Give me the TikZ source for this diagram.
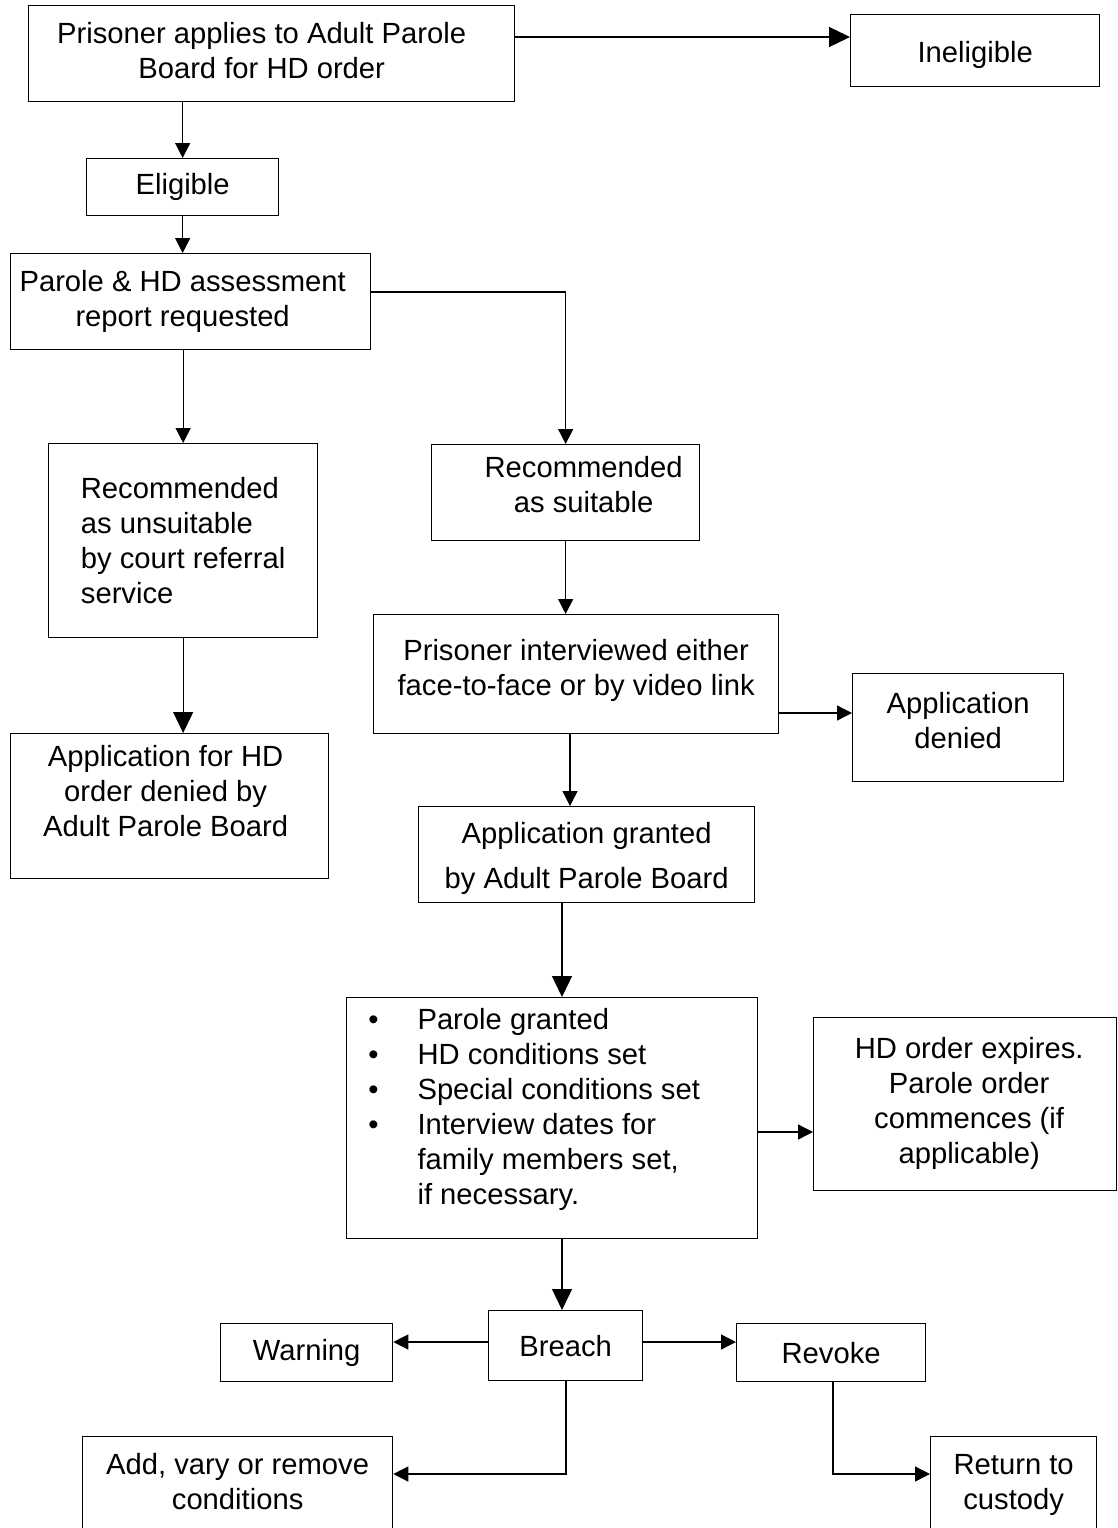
\documentclass[tikz,border=0pt]{standalone}
\usepackage{fontspec}
\setmainfont{Liberation Sans}
\usetikzlibrary{arrows.meta,calc}
\begin{document}
\begin{tikzpicture}[x=1pt,y=-1pt,
  box/.style={draw, line width=1.3pt, anchor=north west, inner sep=0pt,
    font=\fontsize{29.2}{35}\selectfont, align=center},
  arr/.style={line width=1.3pt, -{Triangle[length=15pt,width=15pt]}},
  bigarr/.style={line width=1.3pt, -{Triangle[length=21pt,width=20pt]}}]
\useasboundingbox (0,0) rectangle (1117,1528);
% boxes
\node[box, minimum width=486pt, minimum height=96pt] (top) at (28,5)
  {\begin{tabular}{@{}c@{\hspace{20pt}}}Prisoner applies to Adult Parole\\Board for HD order\end{tabular}};
\node[box, minimum width=249pt, minimum height=72pt] (inel) at (850,14)
  {\raisebox{-4pt}[\height][\depth]{Ineligible}};
\node[box, minimum width=192pt, minimum height=57pt] (elig) at (86,158) {Eligible};
\node[box, minimum width=360pt, minimum height=96pt] (parole) at (10,253)
  {\begin{tabular}{@{}c@{\hspace{16pt}}}Parole \& HD assessment\\report requested\end{tabular}};
\node[box, minimum width=269pt, minimum height=194pt, align=left] (unsuit) at (48,443)
  {Recommended\\as unsuitable\\by court referral\\service};
\node[box, minimum width=268pt, minimum height=96pt] (suit) at (431,444)
  {\begin{tabular}{@{\hspace{36pt}}c@{}}Recommended\\as suitable\\[10pt]\end{tabular}};
\node[box, minimum width=318pt, minimum height=145pt] (denapb) at (10,733)
  {\begin{tabular}{@{}c@{\hspace{8pt}}}Application for HD\\order denied by\\Adult Parole Board\\[24pt]\end{tabular}};
\node[box, minimum width=405pt, minimum height=119pt] (interv) at (373,614)
  {\begin{tabular}{@{}c@{}}Prisoner interviewed either\\face-to-face or by video link\\[6pt]\end{tabular}};
\node[box, minimum width=211pt, minimum height=108pt] (appden) at (852,673)
  {\begin{tabular}{@{}c@{}}Application\\denied\\[8pt]\end{tabular}};
\node[box, minimum width=336pt, minimum height=96pt] (granted) at (418,806)
  {\rule{0pt}{29pt}Application granted\\[10pt]by Adult Parole Board};
\node[box, minimum width=411pt, minimum height=241pt] (bul) at (346,997)
  {\begin{tabular}{@{}l@{\hspace{39pt}}l@{\hspace{36pt}}}
   \textbullet & Parole granted\\
   \textbullet & HD conditions set\\
   \textbullet & Special conditions set\\
   \textbullet & Interview dates for\\
   & family members set,\\
   & if necessary.\\[16pt]
   \end{tabular}};
\node[box, minimum width=303pt, minimum height=173pt] (hd) at (813,1017)
  {\begin{tabular}{@{\hspace{8pt}}c@{}}HD order expires.\\Parole order\\commences (if\\applicable)\end{tabular}};
\node[box, minimum width=172pt, minimum height=58pt] (warn) at (220,1323) {Warning};
\node[box, minimum width=154pt, minimum height=70pt] (breach) at (488,1310) {Breach};
\node[box, minimum width=189pt, minimum height=58pt] (revoke) at (736,1323) {Revoke};
\node[box, minimum width=310pt, minimum height=109pt] (add) at (82,1436)
  {\begin{tabular}{@{}c@{}}Add, vary or remove\\conditions\\[13pt]\end{tabular}};
\node[box, minimum width=166pt, minimum height=109pt] (ret) at (930,1436)
  {\begin{tabular}{@{}c@{}}Return to\\custody\\[13pt]\end{tabular}};
% connector levels
\coordinate (y1) at (0,37);
\coordinate (y2) at (0,292);
\coordinate (y3) at (0,713);
\coordinate (x4) at (570,0);
\coordinate (x5) at (562,0);
\coordinate (y6) at (0,1132);
\coordinate (y7) at (0,1342);
\coordinate (x8) at (566,0);
\coordinate (y8) at (0,1474);
\coordinate (x9) at (833,0);
% connectors
\draw[bigarr] (top.east |- y1) -- (inel.west |- y1);
\draw[arr] (elig.north |- top.south) -- (elig.north);
\draw[arr] (elig.south) -- (elig.south |- parole.north);
\draw[arr] (unsuit.north |- parole.south) -- (unsuit.north);
\draw[arr] (parole.east |- y2) -| (suit.north);
\draw[bigarr] (unsuit.south) -- (unsuit.south |- denapb.north);
\draw[arr] (suit.south) -- (suit.south |- interv.north);
\draw[arr] (interv.east |- y3) -- (appden.west |- y3);
\draw[arr] (interv.south -| x4) -- (granted.north -| x4);
\draw[bigarr] (granted.south -| x5) -- (bul.north -| x5);
\draw[arr] (bul.east |- y6) -- (hd.west |- y6);
\draw[bigarr] (bul.south -| x5) -- (breach.north -| x5);
\draw[arr] (breach.west |- y7) -- (warn.east |- y7);
\draw[arr] (breach.east |- y7) -- (revoke.west |- y7);
\draw[arr] (breach.south -| x8) |- (add.east |- y8);
\draw[arr] (revoke.south -| x9) |- (ret.west |- y8);
\end{tikzpicture}
\end{document}
